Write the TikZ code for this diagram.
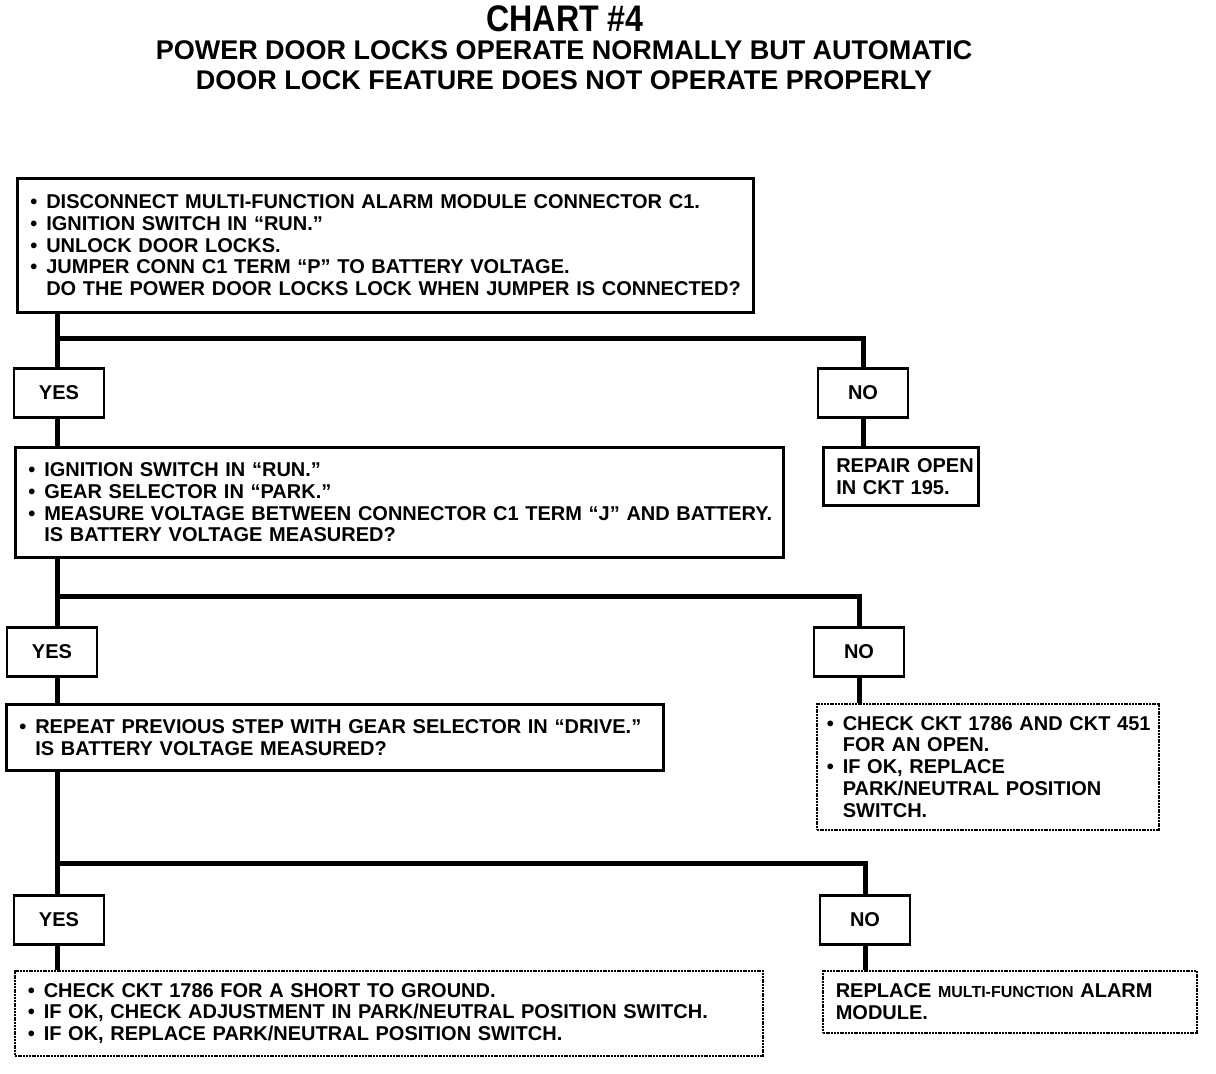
\documentclass[tikz,border=0pt]{standalone}
\usepackage{fontspec}
\setmainfont{Liberation Sans}
\usepackage{xcolor}
\definecolor{ink}{HTML}{000000}
\usepackage{tikz}
\usetikzlibrary{positioning,calc}
\newcommand{\bodyfont}{\fontsize{20}{21.7}\selectfont\bfseries}
\newcommand{\itm}[1]{\mbox{\textbullet\hspace{9pt}#1}}
\newcommand{\cnt}[1]{\mbox{\phantom{\textbullet}\hspace{9pt}#1}}
\tikzset{
  qbox/.style={draw=ink,line width=2.6pt,align=left,font=\bodyfont,anchor=north west,
    inner xsep=13pt,inner ysep=0pt},
  dbox/.style={qbox,line width=1.6pt,dash pattern=on 2pt off 0.8pt},
  ans/.style={draw=ink,line width=2.6pt,font=\bodyfont,minimum width=90pt,minimum height=49pt,inner sep=0pt},
  link/.style={draw=ink,line width=5pt},
  ttl/.style={font=\bfseries,text=ink,inner sep=0pt},
}
\begin{document}
\begin{tikzpicture}[x=1pt,y=-1pt]
  \useasboundingbox (0,0) rectangle (1216,1074);
  % title
  \node[ttl,font=\fontsize{37}{40}\selectfont\bfseries] (chart) at (565,19) {\scalebox{0.87}[1]{CHART \#4}};
  \node[ttl,font=\fontsize{27}{30}\selectfont\bfseries] (ttla) at (564,50) {POWER DOOR LOCKS OPERATE NORMALLY BUT AUTOMATIC};
  \node[ttl,font=\fontsize{27}{30}\selectfont\bfseries] (ttlb) at (564,80) {DOOR LOCK FEATURE DOES NOT OPERATE PROPERLY};
  % question and result boxes
  \node[qbox,minimum width=736pt,minimum height=134pt,text width=710pt] (qa) at (16,177) {%
    \itm{DISCONNECT MULTI-FUNCTION ALARM MODULE CONNECTOR C1.}\\
    \itm{IGNITION SWITCH IN “RUN.”}\\
    \itm{UNLOCK DOOR LOCKS.}\\
    \itm{JUMPER CONN C1 TERM “P” TO BATTERY VOLTAGE.}\\
    \cnt{DO THE POWER DOOR LOCKS LOCK WHEN JUMPER IS CONNECTED?}};
  \node[qbox,minimum width=768pt,minimum height=110pt,text width=742pt] (qb) at (14,446) {%
    \itm{IGNITION SWITCH IN “RUN.”}\\
    \itm{GEAR SELECTOR IN “PARK.”}\\
    \itm{MEASURE VOLTAGE BETWEEN CONNECTOR C1 TERM “J” AND BATTERY.}\\
    \cnt{IS BATTERY VOLTAGE MEASURED?}};
  \node[qbox,minimum width=657pt,minimum height=66pt,text width=631pt] (qc) at (5,703) {%
    \itm{REPEAT PREVIOUS STEP WITH GEAR SELECTOR IN “DRIVE.”}\\
    \cnt{IS BATTERY VOLTAGE MEASURED?}};
  \node[dbox,minimum width=748pt,minimum height=85pt,text width=722pt] (fixc) at (14,970) {%
    \itm{CHECK CKT 1786 FOR A SHORT TO GROUND.}\\
    \itm{IF OK, CHECK ADJUSTMENT IN PARK/NEUTRAL POSITION SWITCH.}\\
    \itm{IF OK, REPLACE PARK/NEUTRAL POSITION SWITCH.}};
  \node[qbox,minimum width=155pt,minimum height=58pt,text width=129pt] (repa) at (822,446) {%
    \mbox{REPAIR OPEN}\\\mbox{IN CKT 195.}};
  \node[dbox,inner xsep=10pt,minimum width=342pt,minimum height=126pt,text width=322pt] (repb) at (816,703) {%
    \itm{CHECK CKT 1786 AND CKT 451}\\
    \cnt{FOR AN OPEN.}\\
    \itm{IF OK, REPLACE}\\
    \cnt{PARK/NEUTRAL POSITION}\\
    \cnt{SWITCH.}};
  \node[dbox,minimum width=374pt,minimum height=62pt,text width=348pt] (repc) at (822,970) {%
    \mbox{REPLACE {\fontsize{16}{21.7}\selectfont MULTI-FUNCTION} ALARM}\\\mbox{MODULE.}};
  % yes / no answers
  \foreach \n/\x/\y/\t in {yesa/59/393/YES, noa/863/393/NO, yesb/52/652/YES,
                          nob/859/652/NO, yesc/59/920/YES, noc/865/920/NO}{
    \node[ans] (\n) at (\x,\y) {\t};
  }
  % trunk and branches
  \coordinate (tr) at (57,0);
  \coordinate (bara) at (57,338);
  \coordinate (barb) at (57,596);
  \coordinate (barc) at (57,863);
  \draw[link] (tr |- qa.south) -- (tr |- yesa.north);
  \draw[link] (bara) -| (noa.north);
  \draw[link] (tr |- yesa.south) -- (tr |- qb.north);
  \draw[link] (noa.south) -- (noa.south |- repa.north);
  \draw[link] (tr |- qb.south) -- (tr |- yesb.north);
  \draw[link] (barb) -| (nob.north);
  \draw[link] (tr |- yesb.south) -- (tr |- qc.north);
  \draw[link] (nob.south) -- (nob.south |- repb.north);
  \draw[link] (tr |- qc.south) -- (tr |- yesc.north);
  \draw[link] (barc) -| (noc.north);
  \draw[link] (tr |- yesc.south) -- (tr |- fixc.north);
  \draw[link] (noc.south) -- (noc.south |- repc.north);
\end{tikzpicture}
\end{document}
